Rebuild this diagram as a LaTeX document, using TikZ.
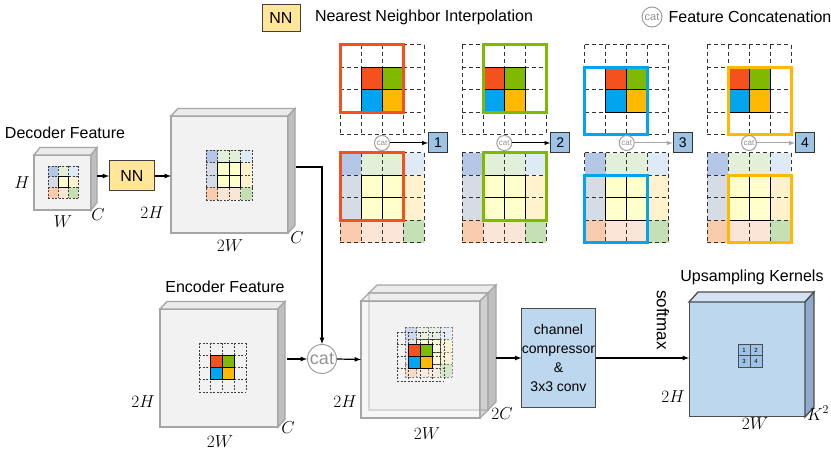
\documentclass[tikz,border=0pt]{standalone}
\usepackage{fontspec}
\setmainfont{Liberation Sans}
\usetikzlibrary{calc}

\definecolor{msred}{HTML}{F4511E}
\definecolor{msgreen}{HTML}{7FBA00}
\definecolor{msblue}{HTML}{00A4EF}
\definecolor{msyellow}{HTML}{FFB900}
\definecolor{dA}{HTML}{B4C7E7}
\definecolor{dB}{HTML}{E2F0D9}
\definecolor{dC}{HTML}{DEEBF7}
\definecolor{dD}{HTML}{D6DCE5}
\definecolor{dY}{HTML}{FFFFCC}
\definecolor{dE}{HTML}{FFF2CC}
\definecolor{dF}{HTML}{F8CBAD}
\definecolor{dG}{HTML}{FBE5D6}
\definecolor{dH}{HTML}{C5E0B4}
\definecolor{cubefront}{HTML}{F2F2F2}
\definecolor{cubetop}{HTML}{EBEBEB}
\definecolor{cubeside}{HTML}{BFBFBF}
\definecolor{cubeedge}{HTML}{A6A6A6}
\definecolor{kfront}{HTML}{BDD7EE}
\definecolor{ktop}{HTML}{D3E3F3}
\definecolor{kside}{HTML}{8FAACC}
\definecolor{nnfill}{HTML}{FFE699}
\definecolor{idxfill}{HTML}{9DC3E6}

\tikzset{
  lbl/.style={font=\fontsize{16}{18}\selectfont, inner sep=1pt},
  dim/.style={font=\fontsize{17}{19}\selectfont, inner sep=1pt},
  arr/.style={->, line width=1.2pt},
  cube/.style={draw=cubeedge, line width=1.3pt, fill=cubefront, inner sep=0pt, outer sep=0pt},
  nnbox/.style={draw=black!75, line width=1pt, fill=nnfill, font=\fontsize{16}{18}\selectfont, inner sep=0pt},
  catnode/.style={circle, draw=gray!75, line width=1pt, text=gray!85, inner sep=0pt, font=\fontsize{16}{18}\selectfont},
  idxbox/.style={draw=black!80, line width=1pt, fill=idxfill, minimum width=19pt, minimum height=20pt, inner sep=0pt, font=\fontsize{14}{16}\selectfont},
  cbox/.style={draw=black!70, line width=1pt, fill=kfront, align=center, inner sep=0pt, font=\fontsize{14}{19}\selectfont},
  kcell/.style={draw=black!70, line width=0.6pt, fill=idxfill, minimum width=12pt, minimum height=11.5pt, inner sep=0pt, font=\fontsize{6}{6}\selectfont},
  gridline/.style={draw=black!80, line width=1pt, dash pattern=on 4pt off 3pt},
  gridsolid/.style={draw=black, line width=1pt},
  finegrid/.style={gridline/.style={draw=black!75, line width=0.6pt, dash pattern=on 2pt off 1.5pt},
                   gridsolid/.style={draw=black, line width=0.7pt}},
  win/.style={line width=3pt}
}

\newcommand{\cubefaces}[6]{%
  \draw[draw=#6, line width=1.3pt, fill=#4] (#1.north west) -- ++(#2,#3) -- ([shift={(#2,#3)}]#1.north east) -- (#1.north east) -- cycle;
  \draw[draw=#6, line width=1.3pt, fill=#5] (#1.north east) -- ++(#2,#3) -- ([shift={(#2,#3)}]#1.south east) -- (#1.south east) -- cycle;
}

\newcommand{\decgrid}[4]{%
  \foreach \gx/\gy/\gc in {0/0/dA,1/0/dB,2/0/dB,3/0/dC,0/1/dD,1/1/dY,2/1/dY,3/1/dE,0/2/dD,1/2/dY,2/2/dY,3/2/dE,0/3/dF,1/3/dG,2/3/dG,3/3/dH}
    \fill[\gc] ({#1+\gx*#3},{#2+\gy*#4}) rectangle ++(#3,#4);
  \foreach \k in {0,...,4} {
    \draw[gridline] ({#1+\k*#3},#2) -- ++(0,{4*#4});
    \draw[gridline] (#1,{#2+\k*#4}) -- ++({4*#3},0);
  }
  \draw[gridsolid] ({#1+#3},{#2+#4}) rectangle ++({2*#3},{2*#4})
    ({#1+2*#3},{#2+#4}) -- ++(0,{2*#4})
    ({#1+#3},{#2+2*#4}) -- ++({2*#3},0);
}

\newcommand{\encgrid}[4]{%
  \foreach \k in {0,...,4} {
    \draw[gridline] ({#1+\k*#3},#2) -- ++(0,{4*#4});
    \draw[gridline] (#1,{#2+\k*#4}) -- ++({4*#3},0);
  }
  \fill[msred] ({#1+#3},{#2+#4}) rectangle ++(#3,#4);
  \fill[msgreen] ({#1+2*#3},{#2+#4}) rectangle ++(#3,#4);
  \fill[msblue] ({#1+#3},{#2+2*#4}) rectangle ++(#3,#4);
  \fill[msyellow] ({#1+2*#3},{#2+2*#4}) rectangle ++(#3,#4);
  \draw[gridsolid] ({#1+#3},{#2+#4}) rectangle ++({2*#3},{2*#4})
    ({#1+2*#3},{#2+#4}) -- ++(0,{2*#4})
    ({#1+#3},{#2+2*#4}) -- ++({2*#3},0);
}

\newcommand{\smallgrid}[4]{%
  \foreach \gx/\gy/\gc in {0/0/dA,1/0/dB,2/0/dC,0/1/dD,1/1/dY,2/1/dE,0/2/dF,1/2/dG,2/2/dH}
    \fill[\gc] ({#1+\gx*#3},{#2+\gy*#4}) rectangle ++(#3,#4);
  \foreach \k in {0,...,3} {
    \draw[gridline] ({#1+\k*#3},#2) -- ++(0,{3*#4});
    \draw[gridline] (#1,{#2+\k*#4}) -- ++({3*#3},0);
  }
  \draw[gridsolid] ({#1+#3},{#2+#4}) rectangle ++(#3,#4);
}

\begin{document}
\begin{tikzpicture}[x=1pt,y=-1pt,>=latex]
\useasboundingbox[fill=white] (0,0) rectangle (831,454);

\node[nnbox, minimum width=38pt, minimum height=27pt] (legnn) at (281,18) {NN};
\node[lbl] (legnntxt) at (424,17) {Nearest Neighbor Interpolation};
\node[catnode, minimum size=20pt, font=\fontsize{11}{12}\selectfont] (legcat) at (652,17) {cat};
\node[lbl] (legcattxt) at (750,17) {Feature Concatenation};

\foreach \px/\wx/\wy/\wc/\ac [count=\i] in {340/0/0/msred/black, 462.3/1/0/msgreen/black, 584.7/0/1/msblue/gray!70, 707/1/1/msyellow/gray!70} {
  \encgrid{\px}{45}{21}{22.5}
  \decgrid{\px}{153}{21}{22.5}
  \draw[win, \wc] ({\px+\wx*21},{45+\wy*22.5}) rectangle ++(63,67.5);
  \draw[win, \wc] ({\px+\wx*21},{153+\wy*22.5}) rectangle ++(63,67.5);
  \node[catnode, minimum size=15pt, font=\fontsize{8}{9}\selectfont] (c\i) at ({\px+42},143) {cat};
  \node[idxbox] (n\i) at ({\px+98},143) {\i};
  \draw[->, line width=1pt, \ac] (c\i) -- (n\i);
}

\node[lbl] (dectxt) at (65,133) {Decoder Feature};
\node[cube, minimum width=57pt, minimum height=55pt] (dec) at (62.5,182.5) {};
\cubefaces{dec}{6}{-7.5}{cubetop}{cubeside}{cubeedge}
\begin{scope}[finegrid]
\smallgrid{48}{166}{10}{10.7}
\end{scope}
\node[dim] (decH) at (22,183) {$H$};
\node[dim] (decW) at (63,222) {$W$};
\node[dim] (decC) at (98,215) {$C$};

\node[nnbox, minimum width=45pt, minimum height=30pt] (nn) at (132,176) {NN};
\coordinate (decout) at (97,176);
\draw[arr] (decout) -- (nn.west);

\node[cube, minimum width=117pt, minimum height=117pt] (up) at (229.5,174.5) {};
\cubefaces{up}{7}{-7.5}{cubetop}{cubeside}{cubeedge}
\draw[arr] (nn.east) -- (nn.east -| up.west);
\begin{scope}[finegrid]
\decgrid{206}{150}{11.5}{12.5}
\end{scope}
\node[dim] (upH) at (152,213) {$2H$};
\node[dim] (upW) at (230,246) {$2W$};
\node[dim] (upC) at (297,238) {$C$};

\node[lbl] (enctxt) at (225,287) {Encoder Feature};
\node[cube, minimum width=118pt, minimum height=118pt] (enc) at (219,368) {};
\cubefaces{enc}{7}{-7.5}{cubetop}{cubeside}{cubeedge}
\begin{scope}[finegrid]
\encgrid{199}{343}{11.75}{12.25}
\end{scope}
\node[dim] (encH) at (143,402) {$2H$};
\node[dim] (encW) at (220,442) {$2W$};
\node[dim] (encC) at (288,428) {$C$};

\node[catnode, minimum size=29pt, font=\fontsize{18}{18}\selectfont] (cat) at (322,359) {cat};
\coordinate (upout) at (296,167);
\coordinate (encout) at (287,359);
\draw[arr] (upout) -| (cat.north);
\draw[arr] (encout) -- (cat.west);

\node[cube, minimum width=119pt, minimum height=117pt] (catB) at (428.5,351.5) {};
\cubefaces{catB}{8}{-8}{cubetop}{cubeside}{cubeedge}
\begin{scope}[fill opacity=0.65]
\node[cube, minimum width=119pt, minimum height=117pt] (catA) at (420.5,359.5) {};
\cubefaces{catA}{8}{-8}{cubetop}{cubeside}{cubeedge}
\end{scope}
\begin{scope}[finegrid]
\begin{scope}[opacity=0.6]
\decgrid{405}{327}{11.75}{12.5}
\end{scope}
\encgrid{397}{332}{11.75}{12.25}
\end{scope}
\draw[arr] (cat.east) -- (catA.west);
\node[dim] (catH) at (345,402) {$2H$};
\node[dim] (catW) at (427,434) {$2W$};
\node[dim] (catC) at (502,414) {$2C$};

\node[cbox, minimum width=73pt, minimum height=99pt] (comp) at (558.5,358) {channel\\compressor\\\&\\3x3 conv};
\coordinate (catout) at (496,358);
\draw[arr] (catout) -- (comp.west);

\node[lbl] (kertxt) at (752,277) {Upsampling Kernels};
\node[cube, draw=black!70, line width=1pt, fill=kfront, minimum width=116pt, minimum height=115pt] (ker) at (747,359.5) {};
\cubefaces{ker}{9}{-10}{ktop}{kside}{black!70}
\draw[arr] (comp.east) -- (comp.east -| ker.west);
\node[lbl, rotate=-90, font=\fontsize{17}{19}\selectfont] (soft) at (663,320) {softmax};
\foreach \n/\kx/\ky in {1/0/0,2/1/0,3/0/1,4/1/1}
  \node[kcell] (k\n) at ({744+\kx*12},{350+\ky*11.5}) {\n};
\node[dim] (kerH) at (673,397) {$2H$};
\node[dim] (kerW) at (755,424) {$2W$};
\node[dim] (kerK) at (818,413) {$K^2$};
\end{tikzpicture}
\end{document}
